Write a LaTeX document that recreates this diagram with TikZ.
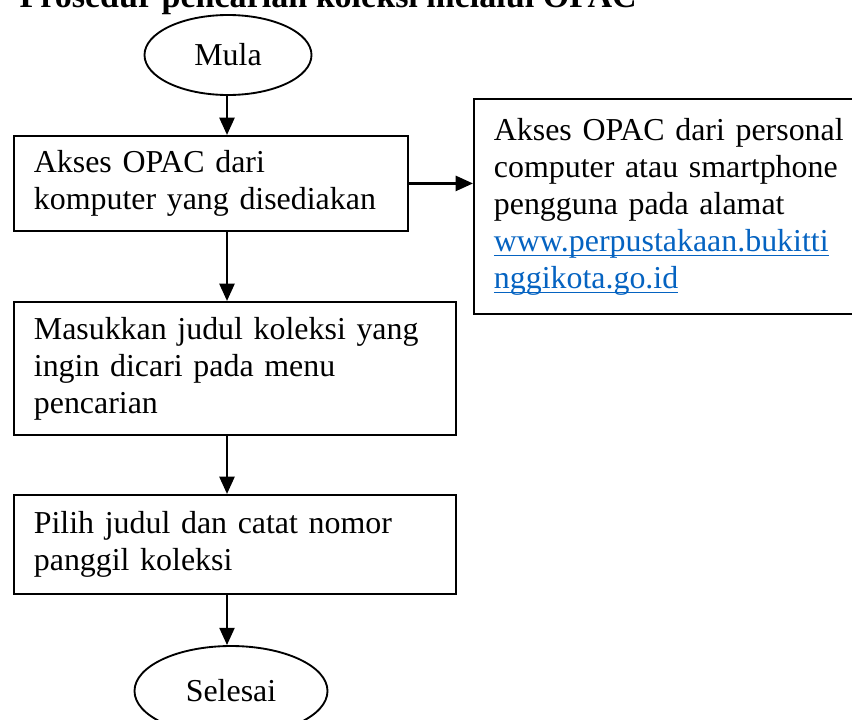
\documentclass[tikz,border=0pt]{standalone}
\usepackage{fontspec}
\setmainfont{Liberation Serif}
\usetikzlibrary{arrows.meta,shapes.geometric}
\definecolor{linkblue}{HTML}{0563C1}
\newcommand\linktext[1]{\leavevmode{\color{linkblue}\underline{\smash{#1}}}}
\begin{document}
\begin{tikzpicture}[x=0.376pt,y=-0.376pt,
  every node/.style={font=\fontsize{12}{13.9}\selectfont},
  procbox/.style={draw, line width=0.7pt, rectangle, align=left, anchor=north west,
    inner xsep=7.5pt, inner ysep=0pt},
  term/.style={draw, ellipse, line width=0.7pt, inner sep=0pt},
  flow/.style={line width=1pt, -{Triangle[length=6.5pt,width=5.6pt]}}]
\useasboundingbox (0,0) rectangle (852,719);
\clip (0,0) rectangle (852,719);
\node[anchor=base west, font=\fontsize{12.8}{14.5}\selectfont\bfseries, inner sep=0pt] (title) at (19,7) {Prosedur pencarian koleksi melalui OPAC};
\node[term, minimum width=167*0.376pt, minimum height=80*0.376pt] (mula) at (228,55) {Mula};
\node[procbox, text width=354*0.376pt, minimum height=95*0.376pt] (akses) at (13,135) {Akses OPAC dari\\komputer yang disediakan};
\node[procbox, text width=360*0.376pt, minimum height=215*0.376pt] (web) at (473,98) {\rule{0pt}{8pt}Akses OPAC dari personal\\computer atau smartphone\\pengguna pada alamat\\\linktext{www.perpustakaan.bukitti}\\\linktext{nggikota.go.id}};
\node[procbox, text width=402*0.376pt, minimum height=133*0.376pt] (masuk) at (13,301) {Masukkan judul koleksi yang\\ingin dicari pada menu\\pencarian};
\node[procbox, text width=402*0.376pt, minimum height=99*0.376pt] (pilih) at (13,494) {Pilih judul dan catat nomor\\panggil koleksi};
\node[term, minimum width=193*0.376pt, minimum height=90*0.376pt] (selesai) at (231,691) {Selesai};
\coordinate (axis) at (227,0);
\draw[flow] (axis |- mula.south) -- (axis |- akses.north);
\draw[flow] (akses.east) -- (akses.east -| web.west);
\draw[flow] (axis |- akses.south) -- (axis |- masuk.north);
\draw[flow] (axis |- masuk.south) -- (axis |- pilih.north);
\draw[flow] (axis |- pilih.south) -- (axis |- selesai.north);
\end{tikzpicture}
\end{document}
